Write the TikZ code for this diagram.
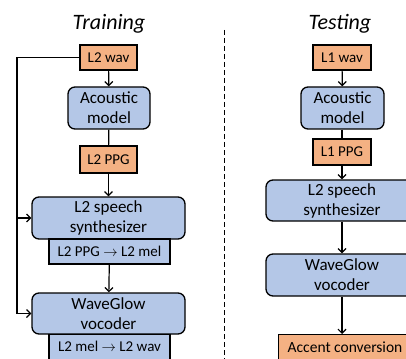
\documentclass[tikz,border=0pt]{standalone}
\usepackage{fontspec}
\setmainfont{Carlito}
\usetikzlibrary{arrows.meta}
\definecolor{boxorange}{RGB}{244,177,131}
\definecolor{boxblue}{RGB}{180,199,231}
\tikzset{
  orangebox/.style={draw=black, line width=1.3pt, fill=boxorange, inner sep=0pt,
    font=\fontsize{15}{18}\selectfont, align=center},
  bluebox/.style={draw=black, line width=1.3pt, fill=boxblue, rounded corners=7pt, inner sep=0pt,
    font=\fontsize{17}{20}\selectfont, align=center},
  subbox/.style={draw=black, line width=1.3pt, fill=boxblue, inner sep=0pt,
    font=\fontsize{15}{18}\selectfont, align=center},
  titletext/.style={font=\fontsize{22}{26}\selectfont\itshape},
  arr/.style={line width=1.2pt, -{Straight Barb[length=4pt,width=8pt,line width=1.2pt]}},
  plain/.style={line width=1.2pt},
}
\begin{document}
\begin{tikzpicture}[x=1pt,y=-1pt]
\useasboundingbox (0,0) rectangle (406,358);
\clip (0,0) rectangle (406,358);
% titles
\node[titletext] (ttrain) at (109,24) {Training};
\node[titletext] (ttest) at (340,24) {Testing};
% separator
\coordinate (dtop) at (224,30);
\coordinate (dbot) at (224,360);
\draw[line width=0.9pt, dash pattern=on 5pt off 3pt] (dtop) -- (dbot);
% training
\node[orangebox, minimum width=57pt, minimum height=25pt] (l2wav) at (108.5,57.5) {L2 wav};
\node[bluebox, minimum width=82pt, minimum height=42pt] (am) at (109,108) {Acoustic\\model};
\node[orangebox, minimum width=57pt, minimum height=27pt] (l2ppg) at (108.5,159.5) {L2 PPG};
\node[bluebox, minimum width=153pt, minimum height=42pt] (syn) at (108.5,218) {L2 speech\\synthesizer};
\node[subbox, minimum width=121pt, minimum height=25pt] (sub1) at (109.5,251.5) {L2 PPG $\rightarrow$ L2 mel};
\node[bluebox, minimum width=153pt, minimum height=41pt] (wg) at (108.5,313.5) {WaveGlow\\vocoder};
\node[subbox, minimum width=121pt, minimum height=28pt, anchor=north] (sub2) at (109.5,334) {};
\node[font=\fontsize{15}{18}\selectfont] (sub2t) at (109.5,346) {L2 mel $\rightarrow$ L2 wav};
\draw[arr] (l2wav) -- (am);
\draw[plain] (am) -- (l2ppg);
\draw[arr] (l2ppg) -- (syn);
\draw[arr] (sub1) -- (wg);
\coordinate (lx) at (17,0);
\draw[arr] (l2wav.west) -| (lx |- wg.west) -- (wg.west);
\draw[arr] (lx |- syn.west) -- (syn.west);
% testing
\node[orangebox, minimum width=58pt, minimum height=25pt] (l1wav) at (342,57.5) {L1 wav};
\node[bluebox, minimum width=83pt, minimum height=42pt] (am2) at (342.5,108) {Acoustic\\model};
\node[orangebox, minimum width=58pt, minimum height=26pt] (l1ppg) at (342,152) {L1 PPG};
\node[bluebox, minimum width=152pt, minimum height=41pt] (syn2) at (342,200.5) {L2 speech\\synthesizer};
\node[bluebox, minimum width=152pt, minimum height=42pt] (wg2) at (342,275) {WaveGlow\\vocoder};
\node[orangebox, minimum width=134pt, minimum height=30pt, anchor=north west] (ac) at (278,334) {};
\node[font=\fontsize{15.5}{18}\selectfont] (act) at (345,347) {Accent conversion};
\draw[arr] (l1wav) -- (am2);
\draw[plain] (am2.south -| l1ppg.north) -- (l1ppg.north);
\draw[arr] (l1ppg) -- (l1ppg.south |- syn2.north);
\draw[arr] (syn2.south -| wg2.north) -- (wg2.north);
\draw[arr] (wg2.south) -- (wg2.south |- ac.north);
\end{tikzpicture}
\end{document}
